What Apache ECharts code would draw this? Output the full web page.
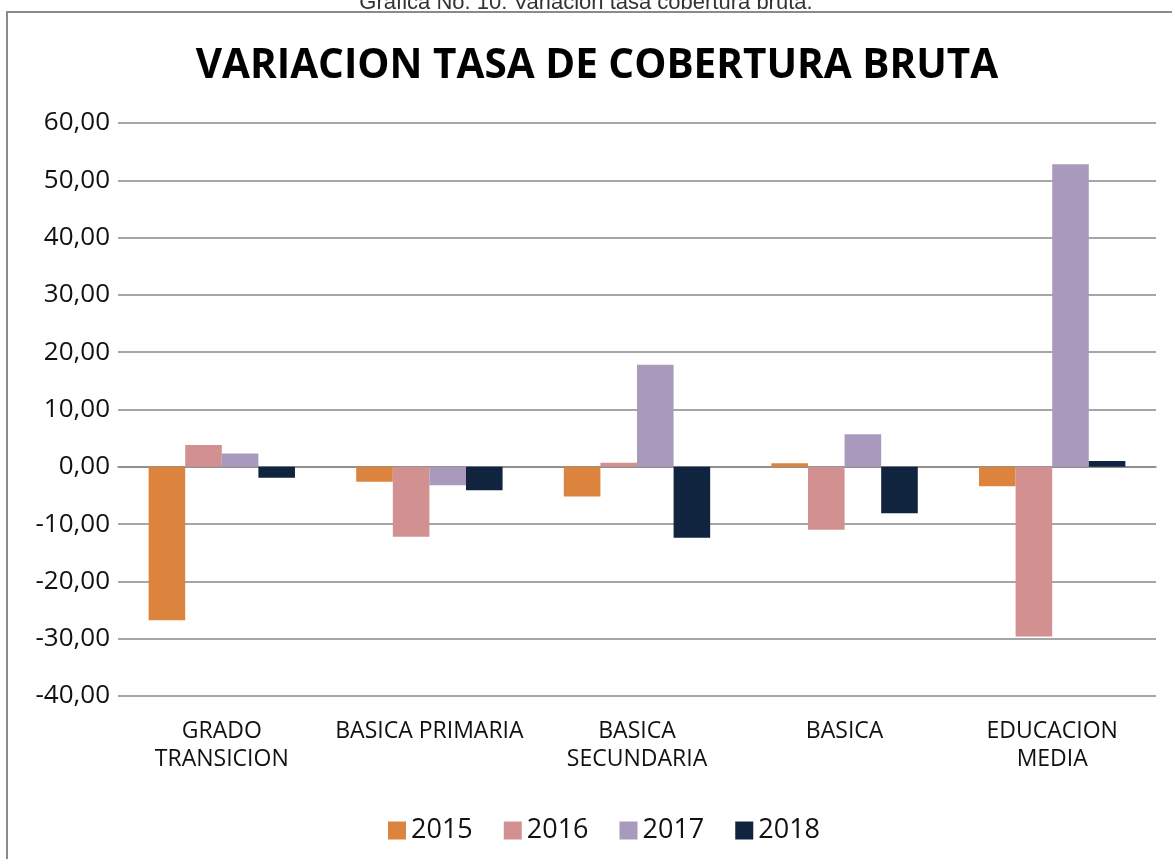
<!DOCTYPE html>
<html>
<head>
<meta charset="utf-8">
<script src="https://cdn.jsdelivr.net/npm/echarts@6/dist/echarts.min.js"></script>
<style>
html,body{margin:0;padding:0;background:#fff;}
#c{width:1172px;height:859px;}
</style>
</head>
<body>
<div id="c"></div>
<script>
var categories = ['GRADO\nTRANSICION', 'BASICA PRIMARIA', 'BASICA\nSECUNDARIA', 'BASICA', 'EDUCACION\nMEDIA'];
var seriesNames = ['2015', '2016', '2017', '2018'];
var values2015 = [-26.8, -2.6, -5.2, 0.6, -3.4];
var values2016 = [3.8, -12.2, 0.7, -11.0, -29.6];
var values2017 = [2.3, -3.2, 17.8, 5.7, 52.8];
var values2018 = [-1.9, -4.1, -12.4, -8.1, 1.0];
var colors = ['#DC843E', '#D39090', '#A99ABD', '#10233F'];
var yTicks = {min: -40, max: 60, interval: 10};

var FONT = 'Open Sans';
var chart = echarts.init(document.getElementById('c'), null, {renderer: 'canvas'});
var allValues = [values2015, values2016, values2017, values2018];
var series = seriesNames.map(function (n, i) {
  return {
    name: n,
    type: 'bar',
    data: allValues[i],
    barGap: '0%',
    barCategoryGap: '29.5%',
    itemStyle: {color: colors[i]}
  };
});
chart.setOption({
  animation: false,
  color: colors,
  graphic: [
    {type: 'rect', shape: {x: 7, y: 12, width: 1200, height: 900}, style: {fill: 'none', stroke: '#8a8a8a', lineWidth: 2}, silent: true},
    {type: 'text', x: 586, y: 3, style: {text: 'Grafica No. 10: Variacion tasa cobertura bruta.', font: '22px "Liberation Sans"', fill: '#333', align: 'center', verticalAlign: 'middle'}}
  ],
  title: {
    text: 'VARIACION TASA DE COBERTURA BRUTA',
    left: 592, top: 41, textAlign: 'center',
    textStyle: {fontFamily: FONT, fontWeight: 'bold', fontSize: 40.5, color: '#000'}
  },
  legend: {
    data: seriesNames,
    left: 383, top: 812,
    itemWidth: 18, itemHeight: 18, itemGap: 31,
    icon: 'rect',
    textStyle: {fontFamily: FONT, fontSize: 27, color: '#111'}
  },
  grid: {left: 118, right: 16, top: 123, bottom: 163, containLabel: false},
  xAxis: {
    type: 'category',
    data: categories,
    axisLine: {show: true, onZero: true, lineStyle: {color: '#898989', width: 1.5}},
    axisTick: {show: false},
    axisLabel: {
      interval: 0, margin: 21,
      fontFamily: FONT, fontSize: 23, lineHeight: 28, color: '#111'
    },
    position: 'bottom'
  },
  yAxis: {
    type: 'value',
    min: yTicks.min, max: yTicks.max, interval: yTicks.interval,
    axisLine: {show: false},
    axisTick: {show: false},
    splitLine: {show: true, lineStyle: {color: '#898989', width: 1.5}},
    axisLabel: {
      margin: 8, fontFamily: FONT, fontSize: 26, color: '#111',
      formatter: function (v) { return v.toFixed(2).replace('.', ','); }
    }
  },
  series: series
});
</script>
</body>
</html>
